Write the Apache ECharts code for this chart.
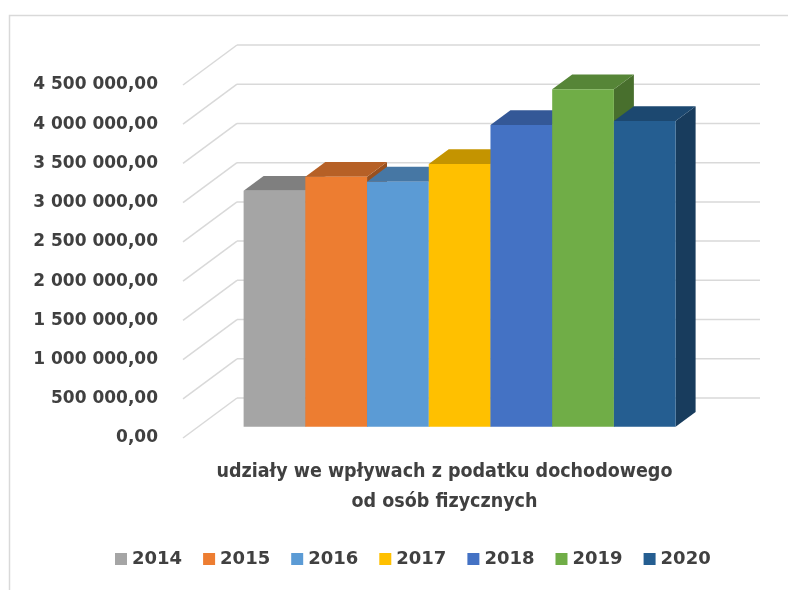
<!DOCTYPE html>
<html>
<head>
<meta charset="utf-8">
<script src="https://cdn.jsdelivr.net/npm/echarts@6/dist/echarts.min.js"></script>
<style>
  html, body { margin: 0; padding: 0; background: #fff; }
  #main { width: 788px; height: 590px; }
</style>
</head>
<body>
<div id="main"></div>
<script>
// data
const category = 'udziały we wpływach z podatku dochodowego\nod osób fizycznych';
const years = ['2014', '2015', '2016', '2017', '2018', '2019', '2020'];
const values = [3010000, 3188000, 3125000, 3350000, 3848000, 4303000, 3899000];
const colors = ['#A5A5A5', '#ED7D31', '#5B9BD5', '#FFC000', '#4472C4', '#70AD47', '#255E91'];
const yTicks = [0, 500000, 1000000, 1500000, 2000000, 2500000, 3000000, 3500000, 4000000, 4500000];

// fake 3D: floor depth in pixels, bars sit between two depth fractions
const DEPTH_X = 54, DEPTH_Y = 40;
const BAR_FRONT = 0.28, BAR_BACK = 0.65;
const GROUP_W = 0.826;

function shade(hex, k) {
    const n = parseInt(hex.slice(1), 16);
    const r = Math.round(((n >> 16) & 255) * k);
    const g = Math.round(((n >> 8) & 255) * k);
    const b = Math.round((n & 255) * k);
    return 'rgb(' + r + ',' + g + ',' + b + ')';
}

function fmt(v) {
    const s = Math.round(v).toString().replace(/\B(?=(\d{3})+(?!\d))/g, ' ');
    return s + ',00';
}

const textColor = '#404040';
const gridColor = '#d9d9d9';

var chartDom = document.getElementById('main');
var myChart = echarts.init(chartDom);

const wallSeries = {
    type: 'custom',
    name: 'wall',
    silent: true,
    z: 1,
    data: yTicks.map(v => [0, v]),
    renderItem: function (params, api) {
        const c = api.coord([0, api.value(1)]);
        const w = api.size([1, 0])[0];
        const left = c[0] - w / 2;
        const bx = left + DEPTH_X, by = c[1] - DEPTH_Y;
        const style = { stroke: gridColor, lineWidth: 1.5 };
        return {
            type: 'group',
            children: [
                { type: 'line', shape: { x1: left, y1: c[1], x2: bx, y2: by }, style: style },
                { type: 'line', shape: { x1: bx, y1: by, x2: bx + w, y2: by }, style: style }
            ]
        };
    }
};

function barRenderer(i) {
    return function (params, api) {
        const base = api.coord([0, 0]);
        const top = api.coord([0, api.value(1)]);
        const w = api.size([1, 0])[0] * GROUP_W;
        const bw = w / years.length;
        const fx = DEPTH_X * BAR_FRONT, fy = DEPTH_Y * BAR_FRONT;
        const dx = DEPTH_X * (BAR_BACK - BAR_FRONT), dy = DEPTH_Y * (BAR_BACK - BAR_FRONT);
        const x0 = base[0] - w / 2 + i * bw + fx;
        const x1 = x0 + bw;
        const yb = base[1] - fy;
        const yt = top[1] - fy;
        const col = colors[i];
        return {
            type: 'group',
            children: [
                { type: 'polygon', shape: { points: [[x1, yt], [x1, yb], [x1 + dx, yb - dy], [x1 + dx, yt - dy]] },
                  style: { fill: shade(col, 0.64) } },
                { type: 'polygon', shape: { points: [[x0, yt], [x1, yt], [x1 + dx, yt - dy], [x0 + dx, yt - dy]] },
                  style: { fill: shade(col, 0.77) } },
                { type: 'rect', shape: { x: x0, y: yt, width: bw, height: yb - yt },
                  style: { fill: col } }
            ]
        };
    };
}

const barSeries = years.map((y, i) => ({
    type: 'custom',
    name: y,
    z: 2 + i,
    itemStyle: { color: colors[i] },
    data: [[0, values[i]]],
    renderItem: barRenderer(i)
}));

var option = {
    animation: false,
    backgroundColor: '#fff',
    graphic: [{
        type: 'rect',
        left: 7, top: 13,
        shape: { width: 820, height: 620 },
        style: { fill: 'none', stroke: gridColor, lineWidth: 1.5 },
        silent: true
    }],
    grid: { left: 183, top: 85, width: 523, height: 353 },
    legend: {
        data: years,
        left: 110,
        top: 545,
        icon: 'rect',
        itemWidth: 12,
        itemHeight: 12,
        itemGap: 21,
        textStyle: { color: textColor, fontFamily: 'DejaVu Sans', fontWeight: 'bold', fontSize: 18 }
    },
    xAxis: {
        type: 'category',
        data: [category],
        axisLine: { show: false },
        axisTick: { show: false },
        axisLabel: {
            margin: 19,
            color: textColor,
            fontFamily: '"Liberation Sans Narrow", "DejaVu Sans Condensed", sans-serif',
            fontWeight: 'bold',
            fontSize: 19.5,
            lineHeight: 30
        }
    },
    yAxis: {
        type: 'value',
        min: 0,
        max: 4500000,
        interval: 500000,
        axisLine: { show: false },
        axisTick: { show: false },
        splitLine: { show: false },
        axisLabel: {
            margin: 25,
            color: textColor,
            fontFamily: 'DejaVu Sans',
            fontWeight: 'bold',
            fontSize: 17,
            formatter: fmt
        }
    },
    series: [wallSeries].concat(barSeries)
};

option && myChart.setOption(option);
</script>
</body>
</html>
